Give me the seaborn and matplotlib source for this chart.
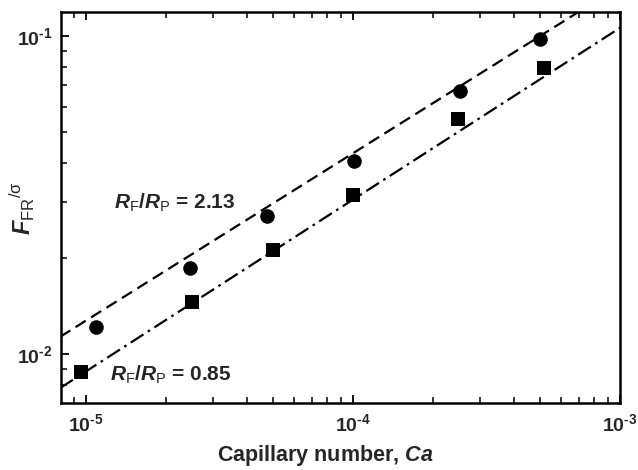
import numpy as np
import pandas as pd
import matplotlib
matplotlib.use("Agg")
import matplotlib.pyplot as plt
import seaborn as sns
from matplotlib.ticker import LogLocator, FuncFormatter, NullFormatter

# ---- data ----
ca_circle = [1.09e-5, 2.45e-5, 4.75e-5, 1.01e-4, 2.51e-4, 5.03e-4]
f_circle = [0.0122, 0.0186, 0.0272, 0.0404, 0.0673, 0.0976]
ca_square = [9.6e-6, 2.50e-5, 5.03e-5, 1.00e-4, 2.47e-4, 5.18e-4]
f_square = [0.0088, 0.01455, 0.0212, 0.0316, 0.0548, 0.0795]

# power-law fit lines F = A * Ca**b
fit_ca = [8.0e-6, 1.0e-3]
fit_dashed_A, fit_dashed_b = 0.0428 * (1e4) ** 0.526, 0.526
fit_dashdot_A, fit_dashdot_b = 0.0306 * (1e4) ** 0.54, 0.54

labels = [r"$\mathit{R}_{\mathsf{F}}/\mathit{R}_{\mathsf{P}}$ = 2.13",
          r"$\mathit{R}_{\mathsf{F}}/\mathit{R}_{\mathsf{P}}$ = 0.85"]

sns.set_theme(style="white")
plt.rcParams["font.family"] = ["Liberation Sans", "DejaVu Sans"]
plt.rcParams["mathtext.fontset"] = "custom"
plt.rcParams["mathtext.rm"] = "Liberation Sans:bold"
plt.rcParams["mathtext.it"] = "Liberation Sans:bold:italic"
plt.rcParams["mathtext.bf"] = "Liberation Sans:bold"
plt.rcParams["mathtext.sf"] = "Liberation Sans"

fig = plt.figure(figsize=(6.38, 4.70), dpi=100)
ax = fig.add_axes([61/638, 1-403/470, (620-61)/638, (403-12)/470])

df_c = pd.DataFrame({"Ca": ca_circle, "F": f_circle})
df_s = pd.DataFrame({"Ca": ca_square, "F": f_square})
fit_ca_arr = np.array(fit_ca)
df_fd = pd.DataFrame({"Ca": fit_ca_arr, "F": fit_dashed_A * fit_ca_arr ** fit_dashed_b})
df_fdd = pd.DataFrame({"Ca": fit_ca_arr, "F": fit_dashdot_A * fit_ca_arr ** fit_dashdot_b})

ax.set_xscale("log")
ax.set_yscale("log")

sns.lineplot(data=df_fd, x="Ca", y="F", ax=ax, color="black", lw=1.6)
sns.lineplot(data=df_fdd, x="Ca", y="F", ax=ax, color="black", lw=1.6)
ax.lines[0].set_dashes([5.4, 2.8])
ax.lines[1].set_dashes([6.8, 2.3, 1.2, 2.3])

sns.scatterplot(data=df_c, x="Ca", y="F", ax=ax, marker="o", s=110,
                color="black", edgecolor="black", linewidth=0, zorder=3)
sns.scatterplot(data=df_s, x="Ca", y="F", ax=ax, marker="s", s=95,
                color="black", edgecolor="black", linewidth=0, zorder=3)

ax.set_xlim(8.06e-6, 1e-3)
ax.set_ylim(0.00702, 0.119)

fmt = FuncFormatter(lambda v, p: r"$\mathbf{10^{\text{-}%d}}$" % abs(int(round(np.log10(v)))))
for axis in (ax.xaxis, ax.yaxis):
    axis.set_major_locator(LogLocator(base=10, numticks=10))
    axis.set_minor_locator(LogLocator(base=10, subs=np.arange(2, 10), numticks=20))
    axis.set_major_formatter(fmt)
    axis.set_minor_formatter(NullFormatter())

ax.tick_params(axis="both", which="both", direction="in", color="black",
               top=True, bottom=True, left=True, right=False)
ax.tick_params(which="major", length=6, width=1.3, labelsize=14)
ax.tick_params(which="minor", length=4, width=1.1)
ax.tick_params(axis="x", which="major", pad=7)
ax.tick_params(axis="y", which="major", pad=6)

for sp in ax.spines.values():
    sp.set_color("black")
    sp.set_linewidth(1.8)

ax.set_xlabel(r"Capillary number, $\mathit{Ca}$", fontsize=15.5, fontweight="bold")
ax.xaxis.set_label_coords((325 - 61) / 559, -(455 - 403) / 391)
ax.xaxis.label.set_va("center")
ax.set_ylabel(r"$\mathit{F}_{\mathsf{FR}}{}^{\mathsf{/\sigma}}$", fontsize=17)
ax.yaxis.set_label_coords((22 - 61) / 559, (403 - 208) / 391)
ax.yaxis.label.set_va("center")

ax.text(1.27e-5, 0.0299, labels[0], fontsize=15, fontweight="bold", ha="left", va="center")
ax.text(1.23e-5, 0.00859, labels[1], fontsize=15, fontweight="bold", ha="left", va="center")

ax.set_facecolor("white")
fig.savefig("out.png", dpi=100, facecolor="white")
